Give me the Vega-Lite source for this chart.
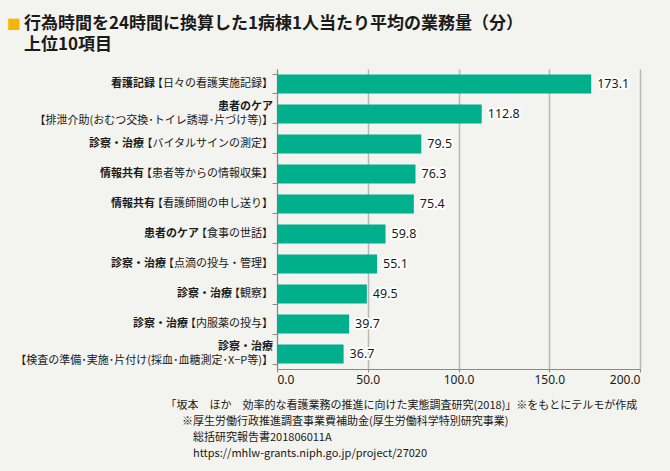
{
  "$schema": "https://vega.github.io/schema/vega-lite/v6.json",
  "width": 363,
  "height": 300,
  "autosize": "none",
  "padding": {"left": 277, "top": 69, "right": 30, "bottom": 102},
  "background": "#f3f3ef",
  "config": {"view": {"stroke": null}},
  "title": {
    "text": "■",
    "subtitle": ["\u200B　行為時間を24時間に換算した1病棟1人当たり平均の業務量（分）", "\u200B　上位10項目"],
    "anchor": "start",
    "frame": "group",
    "orient": "top",
    "dx": -270,
    "offset": 13,
    "font": "Noto Sans CJK JP",
    "fontSize": 14,
    "color": "#f7b500",
    "subtitleFont": "Noto Sans CJK JP",
    "subtitleFontSize": 17,
    "subtitleFontWeight": "bold",
    "subtitleColor": "#1a1a1a",
    "subtitleLineHeight": 21,
    "subtitlePadding": -16
  },
  "data": {
    "values": [
      {"cat": "看護記録", "detail": "【日々の看護実施記録】", "value": 173.1},
      {"cat": "患者のケア", "detail": "【排泄介助(おむつ交換･トイレ誘導･片づけ等)】", "value": 112.8},
      {"cat": "診察・治療", "detail": "【バイタルサインの測定】", "value": 79.5},
      {"cat": "情報共有", "detail": "【患者等からの情報収集】", "value": 76.3},
      {"cat": "情報共有", "detail": "【看護師間の申し送り】", "value": 75.4},
      {"cat": "患者のケア", "detail": "【食事の世話】", "value": 59.8},
      {"cat": "診察・治療", "detail": "【点滴の投与・管理】", "value": 55.1},
      {"cat": "診察・治療", "detail": "【観察】", "value": 49.5},
      {"cat": "診察・治療", "detail": "【内服薬の投与】", "value": 39.7},
      {"cat": "診察・治療", "detail": "【検査の準備･実施･片付け(採血･血糖測定･X−P等)】", "value": 36.7}
    ]
  },
  "encoding": {
    "y": {
      "field": "detail",
      "type": "nominal",
      "sort": null,
      "scale": {"paddingInner": 0.367, "paddingOuter": 0.183},
      "axis": {
        "labels": false,
        "title": null,
        "domain": true,
        "domainColor": "#8a8a8a",
        "domainWidth": 1,
        "ticks": true,
        "tickBand": "extent",
        "tickColor": "#8a8a8a",
        "tickSize": 5,
        "grid": false
      }
    },
    "x": {
      "field": "value",
      "type": "quantitative",
      "scale": {"domain": [0, 200], "nice": false},
      "axis": {
        "values": [0, 50, 100, 150, 200],
        "format": ".1f",
        "grid": true,
        "gridColor": "#b9b9b9",
        "gridWidth": 1.5,
        "domain": true,
        "domainColor": "#8a8a8a",
        "ticks": true,
        "tickColor": "#8a8a8a",
        "tickSize": 3,
        "labelFont": "Noto Sans",
        "labelFontSize": 12,
        "labelColor": "#1a1a1a",
        "labelPadding": 2,
        "title": [
          "「坂本　ほか　効率的な看護業務の推進に向けた実態調査研究(2018)」※をもとにテルモが作成",
          "\u200B\u2002　※厚生労働行政推進調査事業費補助金(厚生労働科学特別研究事業)",
          "\u200B\u2002　　総括研究報告書201806011A",
          "\u200B\u2002　　https://mhlw-grants.niph.go.jp/project/27020"
        ],
        "titleFont": "Noto Sans CJK JP",
        "titleFontSize": 11,
        "titleFontWeight": "normal",
        "titleColor": "#1a1a1a",
        "titleAlign": "left",
        "titleAnchor": "start",
        "titleBaseline": "top",
        "titleLineHeight": 16,
        "titleX": -112,
        "titleY": 30
      }
    }
  },
  "layer": [
    {
      "mark": {"type": "bar", "color": "#00af8c"}
    },
    {
      "mark": {
        "type": "text",
        "align": "right",
        "baseline": "middle",
        "font": "Noto Sans CJK JP",
        "fontSize": 11,
        "fontWeight": "bold",
        "color": "#1a1a1a",
        "dx": {"expr": "length(datum.detail) > 15 ? -4 : -1 - 11 * length(datum.detail)"},
        "dy": {"expr": "length(datum.detail) > 15 ? -7 : 0"}
      },
      "encoding": {"x": {"datum": 0}, "text": {"field": "cat"}}
    },
    {
      "mark": {
        "type": "text",
        "align": "right",
        "baseline": "middle",
        "font": "Noto Sans CJK JP",
        "fontSize": 11,
        "color": "#1a1a1a",
        "dx": -4,
        "dy": {"expr": "length(datum.detail) > 15 ? 7 : 0"}
      },
      "encoding": {"x": {"datum": 0}, "text": {"field": "detail"}}
    },
    {
      "mark": {
        "type": "text",
        "align": "left",
        "baseline": "middle",
        "font": "Noto Sans",
        "fontSize": 12.5,
        "dx": 6,
        "stroke": "#ffffff",
        "strokeWidth": 4,
        "strokeJoin": "round",
        "color": "#ffffff"
      },
      "encoding": {"text": {"field": "value", "format": ".1f"}}
    },
    {
      "mark": {
        "type": "text",
        "align": "left",
        "baseline": "middle",
        "font": "Noto Sans",
        "fontSize": 12.5,
        "dx": 6,
        "color": "#1a1a1a"
      },
      "encoding": {"text": {"field": "value", "format": ".1f"}}
    }
  ]
}
